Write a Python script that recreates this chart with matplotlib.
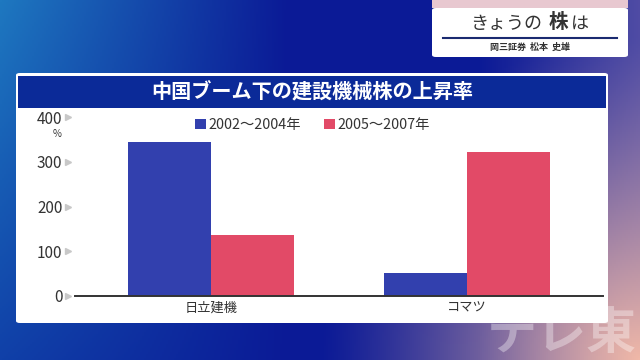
import numpy as np
import matplotlib
matplotlib.use("Agg")
import matplotlib.pyplot as plt
from matplotlib.patches import FancyBboxPatch, Rectangle
import matplotlib.transforms as mtransforms

plt.rcParams['font.family'] = ['Noto Sans CJK JP', 'DejaVu Sans']

categories = ["日立建機", "コマツ"]
series_names = ["2002～2004年", "2005～2007年"]
vals_2002_2004 = [344, 51]
vals_2005_2007 = [136, 322]
yticks = [0, 100, 200, 300, 400]
title = "中国ブーム下の建設機械株の上昇率"

BLUE = "#3240ae"
RED = "#e24a67"

W, H = 640, 360
fig = plt.figure(figsize=(6.4, 3.6), dpi=100)

# background gradient
bg = fig.add_axes([0, 0, 1, 1], zorder=0)
bg.set_axis_off()
xx, yy = np.meshgrid(np.linspace(0, 1, 320), np.linspace(0, 1, 180))
c_left = np.array([0x1e, 0x78, 0xc0]) / 255
c_left_b = np.array([0x10, 0x40, 0xa8]) / 255
c_mid = np.array([0x0b, 0x1a, 0x96]) / 255
cl = c_left * (1 - yy[..., None]) + c_left_b * yy[..., None]
t = np.clip(xx / 0.45, 0, 1)[..., None]
img = cl * (1 - t) + c_mid * t
c_purp = np.array([0x60, 0x58, 0xa8]) / 255
tp = np.clip((xx - 0.75) / 0.25, 0, 1)[..., None] * 0.8
img = img * (1 - tp) + c_purp * tp
c_pink = np.array([0xf0, 0xb8, 0xa8]) / 255
d = np.sqrt(((1 - xx) / 0.5) ** 2 + ((1 - yy) / 0.9) ** 2)
tk = np.clip(1 - d, 0, 1)[..., None] ** 1.2
img = img * (1 - tk) + c_pink * tk
bg.imshow(img, extent=[0, 1, 0, 1], aspect='auto', origin='upper')
bg.set_xlim(0, 1); bg.set_ylim(0, 1)
# watermark (behind the panel)
bg.text(0.995, 0.0, "テレ東", fontsize=36, color="white", alpha=0.35, style="italic",
        fontweight="bold", ha="right", va="bottom", transform=bg.transAxes)

def fx(px): return px / W
def fy(py): return 1 - py / H

# white panel
panel = FancyBboxPatch((fx(16), fy(323)), fx(608) - fx(16), fy(73) - fy(323),
                       boxstyle="round,pad=0,rounding_size=0.006",
                       transform=fig.transFigure, facecolor="white", edgecolor="none", zorder=1)
fig.patches.append(panel)
# title bar
fig.patches.append(Rectangle((fx(18), fy(108)), fx(606) - fx(18), fy(76) - fy(108),
                             transform=fig.transFigure, facecolor="#0b2a98", edgecolor="none", zorder=2))
fig.text(fx(312), fy(92), title, color="white", fontsize=14.5, fontweight="bold",
         ha="center", va="center", zorder=3)

# top-right box
fig.patches.append(Rectangle((fx(432), fy(8)), fx(628) - fx(432), fy(0) - fy(8),
                             transform=fig.transFigure, facecolor="#e8c8d0", edgecolor="none", zorder=1))
fig.patches.append(FancyBboxPatch((fx(432), fy(57)), fx(628) - fx(432), fy(8) - fy(57),
                                  boxstyle="round,pad=0,rounding_size=0.006",
                                  transform=fig.transFigure, facecolor="white", edgecolor="none", zorder=1))
fig.text(fx(506), fy(24), "きょうの", fontsize=13, color="#333333", ha="center", va="center", zorder=3)
fig.text(fx(558), fy(23), "株", fontsize=14, color="#333333", ha="center", va="center", zorder=3,
         fontweight="bold")
fig.text(fx(580), fy(24), "は", fontsize=13, color="#333333", ha="center", va="center", zorder=3)
fig.add_artist(plt.Line2D([fx(443), fx(617)], [fy(38), fy(38)], transform=fig.transFigure,
                          color="#1a2a70", lw=1.5, zorder=3))
fig.text(fx(530), fy(47), "岡三証券  松本  史雄", fontsize=6.5, color="#333333", ha="center", va="center",
         zorder=3, fontweight="bold")

# main axes
ax = fig.add_axes([fx(75), fy(296), fx(603) - fx(75), fy(117) - fy(296)], zorder=5)
ax.patch.set_visible(False)
x = np.arange(len(categories))
w = 0.324
ax.bar(x - w / 2, vals_2002_2004, w, color=BLUE, label=series_names[0])
ax.bar(x + w / 2, vals_2005_2007, w, color=RED, label=series_names[1])
ax.set_xlim(-0.531, 1.531)
ax.set_ylim(0, 400)
for s in ["top", "right", "left"]:
    ax.spines[s].set_visible(False)
ax.spines["bottom"].set_color("#333333")
ax.spines["bottom"].set_linewidth(1.4)
ax.set_yticks(yticks)
ax.set_yticklabels([str(v) for v in yticks], fontsize=11, color="#333333")
ax.tick_params(axis="y", length=0, pad=9)
ax.set_xticks(x)
ax.set_xticklabels(categories, fontsize=9.5, color="#333333")
ax.tick_params(axis="x", length=0, pad=4)
trans = mtransforms.blended_transform_factory(ax.transAxes, ax.transData)
ax.plot([-0.013] * len(yticks), yticks, linestyle="none", marker=">", markersize=4,
        color="#c8c8c8", transform=trans, clip_on=False)
ax.text(-0.034, 362, "%", transform=trans, fontsize=7, color="#333333", ha="center", va="center")
ax.legend(loc="center", bbox_to_anchor=(0.45, 0.955), ncol=2, frameon=False, fontsize=10.3,
          handlelength=0.75, handleheight=0.75, handletextpad=0.2, columnspacing=1.6,
          labelcolor="#333333")

fig.savefig("out.png", dpi=100)
